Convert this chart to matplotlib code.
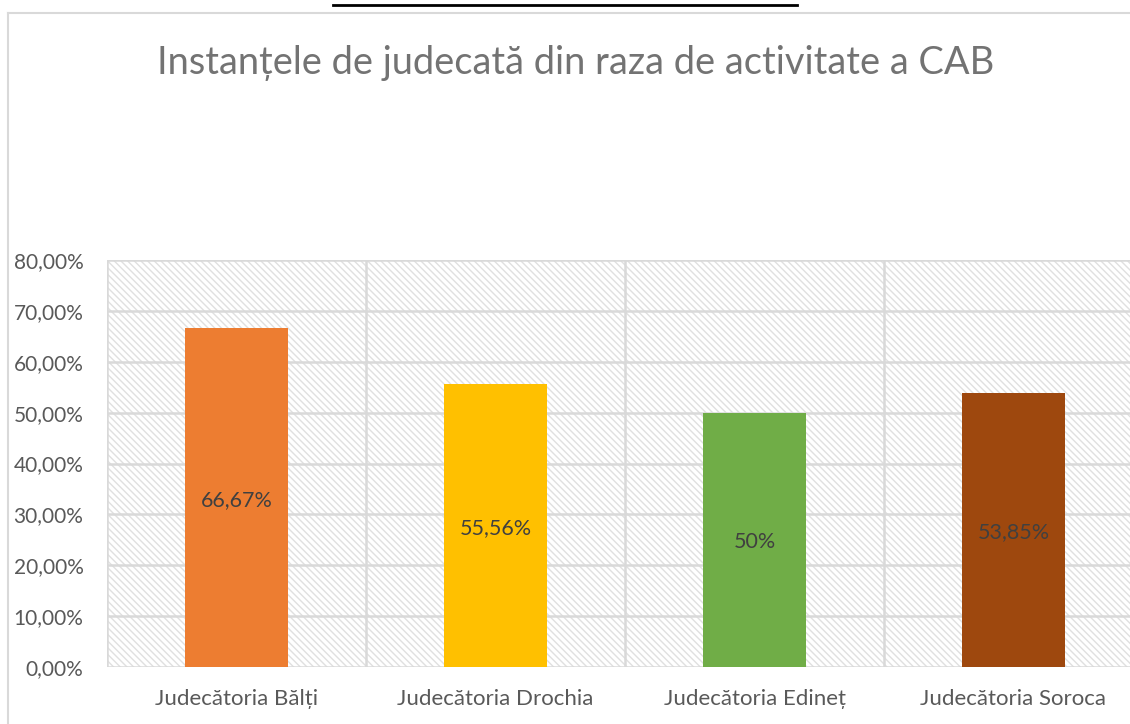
import matplotlib.pyplot as plt
from matplotlib.patches import Rectangle
from matplotlib.lines import Line2D
from matplotlib.ticker import FixedLocator

plt.rcParams['font.family'] = ['Lato', 'DejaVu Sans']
plt.rcParams['hatch.linewidth'] = 1.0

courts = ['Judecătoria Bălți', 'Judecătoria Drochia', 'Judecătoria Edineț', 'Judecătoria Soroca']
shares = [66.67, 55.56, 50.0, 53.85]
share_labels = ['66,67%', '55,56%', '50%', '53,85%']
colors = ['#ED7D31', '#FFC000', '#70AD47', '#9E480E']
y_ticks = [0, 10, 20, 30, 40, 50, 60, 70, 80]

GRID = '#d9d9d9'
TEXT = '#595959'

W, H = 1130, 724
fig = plt.figure(figsize=(W / 100, H / 100), dpi=100)
fig.patch.set_facecolor('white')

# plot area runs past the right edge of the picture
ax = fig.add_axes([107 / W, 57 / H, 1036 / W, 407 / H])
ax.set_xlim(-0.5, len(courts) - 0.5)
ax.set_ylim(0, 80)

ax.add_patch(Rectangle((0, 0), 1, 1, transform=ax.transAxes, fill=False,
                       hatch='\\' * 5, edgecolor='#e0e0e0', linewidth=0, zorder=0))

x = list(range(len(courts)))
bars = ax.bar(x, shares, width=0.4, color=colors, zorder=3)
for b, lab in zip(bars, share_labels):
    ax.text(b.get_x() + b.get_width() / 2, b.get_height() / 2 - 0.5, lab,
            ha='center', va='center', fontsize=15.5, color='#404040', zorder=4)

ax.yaxis.set_major_locator(FixedLocator(y_ticks))
ax.yaxis.set_major_formatter(lambda v, p: f"{v:.2f}".replace('.', ',') + '%')
ax.set_xticks(x)
ax.set_xticklabels(courts)
ax.xaxis.set_minor_locator(FixedLocator([i - 0.5 for i in range(len(courts) + 1)]))
ax.grid(axis='y', which='major', color=GRID, linewidth=1.8, zorder=1)
ax.grid(axis='x', which='minor', color=GRID, linewidth=1.8, zorder=1)
ax.tick_params(axis='both', which='both', length=0)
ax.tick_params(axis='y', labelsize=15, labelcolor=TEXT, pad=17)
ax.tick_params(axis='x', labelsize=16, labelcolor=TEXT, pad=16)
for s in ax.spines.values():
    s.set_visible(False)
ax.set_axisbelow(True)

fig.text(576 / W, 1 - 63 / H, 'Instanțele de judecată din raza de activitate a CAB',
         ha='center', va='center', fontsize=27.4, color='#737373')

# chart frame and the cut-off underline of the heading above
fig.add_artist(Line2D([8 / W, 1.0], [1 - 13 / H] * 2, color=GRID, linewidth=1.5))
fig.add_artist(Line2D([8 / W] * 2, [0, 1 - 13 / H], color=GRID, linewidth=1.5))
fig.add_artist(Line2D([333 / W, 797 / W], [1 - 5 / H] * 2, color='black', linewidth=2))

fig.savefig('out.png', dpi=100)
